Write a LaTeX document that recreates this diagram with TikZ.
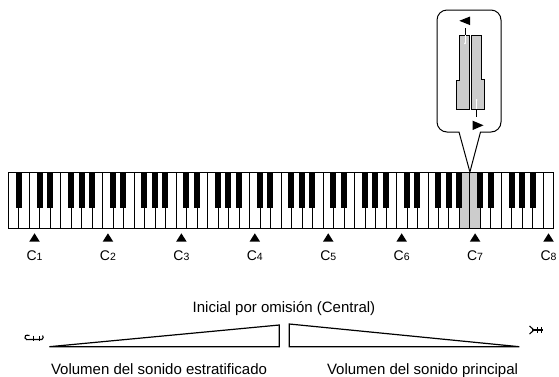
\documentclass[tikz,border=0pt]{standalone}
\usepackage{fontspec}
\setmainfont{Liberation Sans}
\definecolor{keygray}{RGB}{204,204,204}
\tikzset{
  whitekey/.style={draw=black,line width=0.8pt,fill=white},
  graykey/.style={draw=black,line width=0.8pt,fill=keygray},
  blackkey/.style={fill=black,draw=black,line width=0.4pt},
  cmark/.style={fill=black,draw=none},
  clabel/.style={anchor=base,inner sep=0pt},
  txt/.style={anchor=base,inner sep=0pt,font=\fontsize{15}{18}\selectfont},
  wedge/.style={draw=black,line width=1.2pt,line join=miter},
  glyph/.style={draw=black,line width=1.1pt}
}
\begin{document}
\begin{tikzpicture}[x=1pt,y=-1pt]
\useasboundingbox (0,0) rectangle (559,376);
\def\xo{8.3}\def\ww{10.49}\def\kt{172}\def\kb{228.3}\def\bb{206.7}
% white keys
\foreach \i in {0,...,51}{
  \pgfmathsetmacro\xa{\xo+\i*\ww}
  \pgfmathsetmacro\xb{\xo+(\i+1)*\ww}
  \ifnum\i=43 \def\ks{graykey}\else\ifnum\i=44 \def\ks{graykey}\else\def\ks{whitekey}\fi\fi
  \path[\ks] (\xa,\kt) rectangle (\xb,\kb);
}
% black keys
\foreach \i in {0,...,50}{
  \pgfmathtruncatemacro\n{mod(\i+5,7)}
  \pgfmathsetmacro\bx{\xo+(\i+1)*\ww-0.5}
  \ifnum\n=2 \else\ifnum\n=6 \else
    \path[blackkey] (\bx-2.5,\kt) rectangle (\bx+2.5,\bb);
  \fi\fi
}
% C markers and labels
\foreach \k in {1,...,8}{
  \pgfmathsetmacro\cx{\xo+(2+7*(\k-1)+0.5)*\ww}
  \path[cmark] (\cx,233.3) -- (\cx+5.3,241.7) -- (\cx-5.3,241.7) -- cycle;
  \node[clabel] (c\k) at (\cx,260) {\fontsize{14}{16}\selectfont C\fontsize{10.5}{12}\selectfont\k};
}
% callout
\coordinate (tip) at (469.9,172);
\path[draw=black,line width=1pt,fill=white,line join=miter]
  (459,132) -- (tip) -- (480.5,132)
  {[rounded corners=10pt] -- (501,132) -- (501,10) -- (437,10) -- (437,132)} -- cycle;
% zoomed keys
\path[graykey] (459.3,35) -- (469.3,35) -- (469.3,109.3) -- (456,109.3) -- (456,80) -- (459.3,80) -- cycle;
\path[graykey] (471,35) -- (481.3,35) -- (481.3,79.3) -- (484,79.3) -- (484,109.3) -- (471,109.3) -- cycle;
% markers
\draw[line width=0.8pt] (465,28.3) -- (465,35);
\draw[white,line width=0.8pt] (465,35) -- (465,43.3);
\fill[white] (465,43.3) circle (1pt);
\fill[black] (459.3,20.8) -- (470,16.5) -- (470,25.1) -- cycle;
\draw[white,line width=0.8pt] (476.7,100) -- (476.7,109.3);
\draw[line width=0.8pt] (476.7,109.3) -- (476.7,116.7);
\fill[white] (476.7,100) circle (1pt);
\fill[black] (472.7,120.7) -- (483.5,125.3) -- (472.7,130) -- cycle;
% volume wedges
\path[wedge] (49.3,346.7) -- (279.3,346.7) -- (279.3,325) -- cycle;
\path[wedge] (289.3,324) -- (289.3,346.7) -- (519.3,346.7) -- cycle;
% texts
\node[txt] (ini) at (284,312) {Inicial por omisión (Central)};
\node[txt] (vle) at (159,374) {Volumen del sonido estratificado};
\node[txt] (vlp) at (422.5,374) {Volumen del sonido principal};
% small glyphs
\draw[glyph] (29.5,335.5) .. controls (25.5,334.5) and (24.5,336) .. (25,338) .. controls (25.5,340) and (28,340) .. (30,339.5) -- (42,339.5);
\draw[glyph] (33.5,335.5) -- (33.5,340.5);
\draw[glyph] (39.5,336) -- (39.5,340.5);
\draw[glyph] (42,339.5) .. controls (43.5,338.5) and (43.5,336.5) .. (42.5,335.5);
\draw[glyph] (529.5,326) -- (534,330) -- (529.5,334);
\draw[glyph] (532,330) -- (543,330);
\draw[glyph] (537.5,327) -- (537.5,333);
\draw[glyph] (541.5,327) -- (541.5,333);
\end{tikzpicture}
\end{document}
